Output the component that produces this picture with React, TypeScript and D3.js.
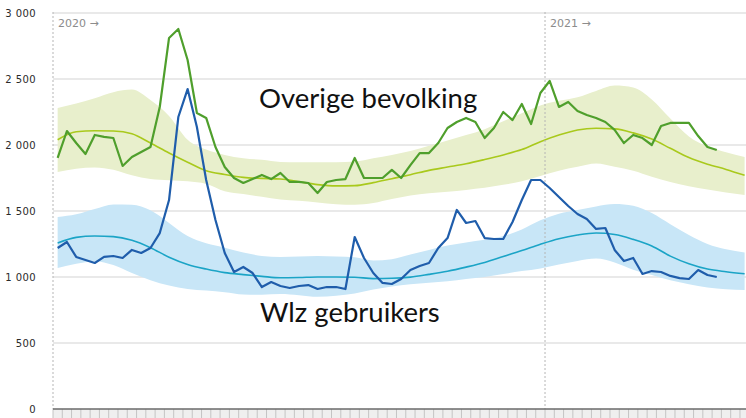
import React, { useEffect, useRef } from 'react';
import * as d3 from 'd3';

// weekly observed values, week 1 2020 .. week 19 2021
const observedOverige = [
  1902, 2106, 2015, 1932, 2076, 2061, 2053, 1841, 1909, 1947,
  1985, 2288, 2811, 2879, 2644, 2242, 2205, 1985, 1833, 1750,
  1712, 1742, 1773, 1742, 1788, 1720, 1720, 1712, 1636, 1720,
  1735, 1742, 1902, 1750, 1750, 1750, 1811, 1750, 1848, 1939,
  1939, 2015, 2129, 2174, 2205, 2174, 2053, 2129, 2250, 2189,
  2311, 2159, 2394, 2485, 2288, 2326, 2258, 2227, 2205, 2174,
  2114, 2015, 2076, 2053, 2000, 2144, 2167, 2167, 2167, 2068,
  1985, 1962,
];
const observedWlz = [
  1220, 1265, 1152, 1129, 1106, 1152, 1159, 1144, 1205, 1182,
  1220, 1333, 1583, 2212, 2424, 2136, 1735, 1432, 1182, 1038,
  1076, 1030, 924, 962, 932, 917, 932, 939, 909, 924,
  924, 909, 1303, 1144, 1030, 955, 947, 985, 1053, 1083,
  1106, 1220, 1295, 1508, 1409, 1424, 1295, 1288, 1288, 1417,
  1583, 1735, 1735, 1674, 1606, 1538, 1477, 1439, 1364, 1371,
  1205, 1121, 1144, 1023, 1045, 1038, 1008, 992, 985, 1053,
  1015, 1000,
];

// expected values and bands, every other week
const bandWeeks = [
  0, 2, 4, 6, 8, 10, 12, 14, 16, 18, 20, 22, 24, 26, 28, 30, 32, 34, 36,
  38, 40, 42, 44, 46, 48, 50, 52, 54, 56, 58, 60, 62, 64, 66, 68, 70, 72, 74,
];
const expectedOverige = [
  2040, 2100, 2108, 2106, 2085, 2015, 1940, 1870, 1805, 1777, 1755, 1747, 1742,
  1722, 1700, 1690, 1692, 1715, 1745, 1775, 1808, 1833, 1858, 1890, 1925, 1965,
  2025, 2075, 2114, 2127, 2122, 2092, 2045, 1975, 1905, 1855, 1815, 1770,
];
const upperOverige = [
  2280, 2315, 2355, 2400, 2420, 2340, 2220, 2040, 1965, 1925, 1900, 1888, 1872,
  1870, 1870, 1870, 1875, 1900, 1925, 1955, 1995, 2035, 2075, 2120, 2180, 2240,
  2300, 2335, 2362, 2410, 2450, 2435, 2345, 2200, 2065, 1990, 1945, 1910,
];
const lowerOverige = [
  1795, 1820, 1830, 1812, 1770, 1742, 1733, 1725, 1705, 1650, 1628, 1608, 1588,
  1578, 1565, 1552, 1548, 1560, 1590, 1618, 1635, 1645, 1660, 1676, 1698, 1725,
  1765, 1805, 1835, 1860, 1835, 1805, 1760, 1720, 1688, 1662, 1640, 1622,
];
const expectedWlz = [
  1258, 1300, 1311, 1306, 1278, 1222, 1150, 1095, 1060, 1033, 1018, 1005, 994,
  996, 1000, 1000, 998, 988, 990, 999, 1020, 1044, 1075, 1110, 1155, 1200,
  1248, 1290, 1318, 1333, 1322, 1285, 1235, 1158, 1100, 1060, 1040, 1025,
];
const upperWlz = [
  1455, 1475, 1515, 1550, 1548, 1505, 1410, 1310, 1255, 1222, 1185, 1160, 1152,
  1156, 1159, 1155, 1150, 1125, 1135, 1170, 1205, 1238, 1262, 1282, 1310, 1360,
  1430, 1480, 1508, 1535, 1553, 1540, 1485, 1400, 1318, 1250, 1210, 1185,
];
const lowerWlz = [
  1068, 1100, 1120, 1090, 1030, 975, 935, 910, 898, 885, 868, 866, 871,
  862, 850, 858, 875, 905, 928, 945, 957, 968, 985, 1000, 1022, 1045,
  1065, 1095, 1122, 1140, 1110, 1055, 1015, 975, 945, 920, 908, 902,
];

const yTicks = [0, 500, 1000, 1500, 2000, 2500, 3000];
const yTickLabels = ['0', '500', '1 000', '1 500', '2 000', '2 500', '3 000'];
const yearStarts = [0, 53];
const yearLabels = ['2020 →', '2021 →'];

const W = 746;
const H = 418;

export default function App() {
  const ref = useRef<SVGSVGElement>(null);

  useEffect(() => {
    const svg = d3.select(ref.current);
    svg.selectAll('*').remove();

    const left = 53;
    const right = 746;
    const top = 13;
    const bottom = 409;

    const x = d3.scaleLinear().domain([0, 74.65]).range([left, right]);
    const y = d3.scaleLinear().domain([0, 3000]).range([bottom, top]);
    const xc = (w: number) => x(w + 0.5);

    // gridlines
    svg.append('g')
      .selectAll('line')
      .data(yTicks.filter(d => d > 0))
      .enter().append('line')
        .attr('x1', left).attr('x2', right)
        .attr('y1', d => y(d)).attr('y2', d => y(d))
        .attr('stroke', '#e2e2e2')
        .attr('stroke-width', 1.5);

    // y labels
    svg.append('g')
      .selectAll('text')
      .data(yTicks)
      .enter().append('text')
        .attr('x', 36)
        .attr('y', d => y(d) + 3.5)
        .attr('text-anchor', 'end')
        .style('font-family', 'DejaVu Sans, sans-serif')
        .style('font-size', '10px')
        .style('letter-spacing', '0.4px')
        .style('fill', '#2a2a2a')
        .text((d, i) => yTickLabels[i]);

    // bands
    const band = (upper: number[], lower: number[]) =>
      d3.area<number>()
        .x((d, i) => xc(bandWeeks[i]))
        .y0((d, i) => y(lower[i]))
        .y1((d, i) => y(upper[i]))
        .curve(d3.curveMonotoneX)(bandWeeks);

    svg.append('path').attr('d', band(upperOverige, lowerOverige)).attr('fill', '#e8efcc');
    svg.append('path').attr('d', band(upperWlz, lowerWlz)).attr('fill', '#c8e6f7');

    const smooth = (vals: number[]) =>
      d3.line<number>()
        .x((d, i) => xc(bandWeeks[i]))
        .y(d => y(d))
        .curve(d3.curveMonotoneX)(vals);

    svg.append('path').attr('d', smooth(expectedOverige))
      .attr('fill', 'none').attr('stroke', '#a9c91c').attr('stroke-width', 1.6);
    svg.append('path').attr('d', smooth(expectedWlz))
      .attr('fill', 'none').attr('stroke', '#1ba4c6').attr('stroke-width', 1.6);

    // year separators
    svg.append('g')
      .selectAll('line')
      .data(yearStarts)
      .enter().append('line')
        .attr('x1', d => x(d)).attr('x2', d => x(d))
        .attr('y1', top - 1).attr('y2', bottom)
        .attr('stroke', '#b5b5b5')
        .attr('stroke-dasharray', '2,2');

    svg.append('g')
      .selectAll('text')
      .data(yearStarts)
      .enter().append('text')
        .attr('x', d => x(d) + 5)
        .attr('y', 27)
        .style('font-family', 'DejaVu Sans, sans-serif')
        .style('font-size', '11px')
        .style('fill', '#8c8c8c')
        .text((d, i) => yearLabels[i]);

    // observed lines
    const obs = d3.line<number>()
      .x((d, i) => xc(i))
      .y(d => y(d));

    svg.append('path').attr('d', obs(observedWlz))
      .attr('fill', 'none').attr('stroke', '#1f5dab').attr('stroke-width', 2.2)
      .attr('stroke-linejoin', 'round');
    svg.append('path').attr('d', obs(observedOverige))
      .attr('fill', 'none').attr('stroke', '#4f9f2c').attr('stroke-width', 2.2)
      .attr('stroke-linejoin', 'round');

    // bottom week strip
    svg.append('rect')
      .attr('x', left).attr('y', bottom)
      .attr('width', right - left).attr('height', H - bottom)
      .attr('fill', '#efefef');
    svg.append('g')
      .selectAll('line')
      .data(d3.range(0, 75))
      .enter().append('line')
        .attr('x1', d => x(d)).attr('x2', d => x(d))
        .attr('y1', bottom).attr('y2', H)
        .attr('stroke', '#c4c4c4');
    svg.append('line')
      .attr('x1', left).attr('x2', right)
      .attr('y1', bottom).attr('y2', bottom)
      .attr('stroke', '#6a6a6a').attr('stroke-width', 1.5);

    // series labels
    svg.append('text')
      .attr('x', 259).attr('y', 108)
      .style('font-family', 'Lato, sans-serif')
      .style('font-size', '27.5px')
      .style('fill', '#111')
      .text('Overige bevolking');
    svg.append('text')
      .attr('x', 260).attr('y', 322)
      .style('font-family', 'Lato, sans-serif')
      .style('font-size', '27.5px')
      .style('fill', '#111')
      .text('Wlz gebruikers');
  }, []);

  return (
    <svg
      ref={ref}
      width={W}
      height={H}
      style={{ position: 'absolute', left: 0, top: 0, background: '#fff' }}
    />
  );
}
